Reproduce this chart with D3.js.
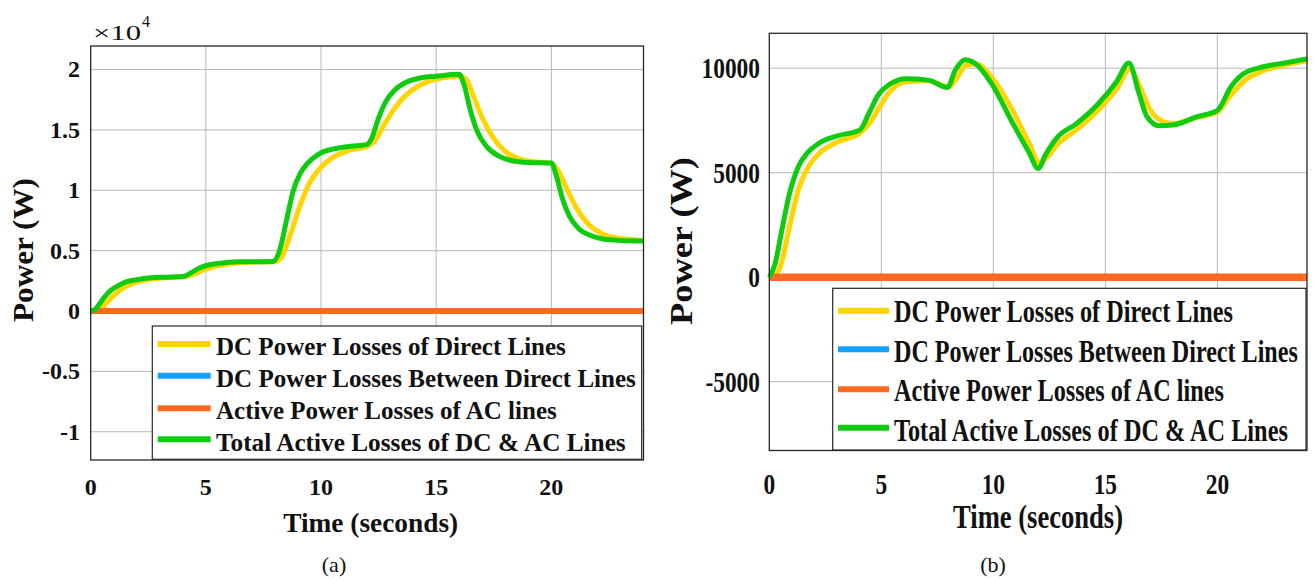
<!DOCTYPE html>
<html>
<head>
<meta charset="utf-8">
<script src="https://cdn.jsdelivr.net/npm/d3@7"></script>
<style>
body{margin:0;background:#fff;}
svg{display:block;}
</style>
</head>
<body>
<svg width="1315" height="581"></svg>
<script>
// series names (legend order)
var seriesNames = ["DC Power Losses of Direct Lines", "DC Power Losses Between Direct Lines",
  "Active Power Losses of AC lines", "Total Active Losses of DC & AC Lines"];
var seriesColors = ["#ffd400", "#14a0ff", "#ff6a20", "#10cc10"];

var xTicks = [0, 5, 10, 15, 20];

// panel (a) values in W
var aDirectT = [0,0.3,0.6,1.0,1.4,1.9,2.5,3.2,4.0,4.4,4.9,5.5,6.2,7.0,8.0,8.3,8.7,9.1,9.5,10.0,10.5,11.2,12.0,12.3,12.7,13.2,13.7,14.3,15.0,16.0,16.3,16.6,17.0,17.5,18.0,18.6,19.3,20.0,20.3,20.7,21.1,21.6,22.2,23.0,24.0];
var aDirectP = [0,0,500,1300,1900,2350,2600,2750,2830,3000,3400,3750,3950,4050,4080,4500,6500,8800,10600,11900,12700,13300,13650,14000,15300,16800,17900,18700,19200,19450,19200,17900,16000,14300,13200,12600,12350,12250,11600,10000,8500,7200,6400,6000,5850];
var aTotalT = [0,0.2,0.5,0.8,1.2,1.6,2.0,2.6,3.2,4.0,4.3,4.7,5.2,5.8,6.5,7.9,8.2,8.5,8.8,9.1,9.4,9.9,10.6,11.3,12.0,12.2,12.5,12.8,13.2,13.7,14.3,15.0,16.0,16.2,16.5,16.8,17.2,17.7,18.3,19.0,20.0,20.2,20.5,20.8,21.2,21.7,22.3,23.0,24.0];
var aTotalP = [0,150,900,1600,2100,2450,2600,2750,2800,2850,3100,3550,3850,4000,4070,4100,5000,7500,10000,11400,12200,13000,13450,13650,13800,14300,16000,17300,18300,18950,19300,19450,19600,18800,16500,14800,13600,12850,12450,12300,12250,11300,9200,7800,6800,6250,5950,5850,5800];
var aBetweenT = [0, 24], aBetweenP = [0, 0];
var aAcT = [0, 24], aAcP = [0, 0];
var aYTicks = [-10000, -5000, 0, 5000, 10000, 15000, 20000];
var aYLabels = ["-1", "-0.5", "0", "0.5", "1", "1.5", "2"];

// panel (b) values in W
var bDirectT = [0,0.3,0.55,0.9,1.3,1.7,2.2,3.0,4.05,4.5,4.9,5.4,6.1,7.1,8.0,8.35,8.8,9.25,9.9,10.85,11.6,12.05,12.4,12.9,13.65,14.6,15.5,16.1,16.55,16.9,17.4,18.0,19.1,20.0,20.6,21.2,22.1,23.0,24.0];
var bDirectP = [0,100,700,2400,4200,5200,5900,6450,6900,7400,8100,8900,9350,9400,9100,9500,10150,10200,9600,8000,6400,5500,5750,6400,7000,7900,9000,9950,9100,8200,7550,7350,7650,7900,8700,9400,9900,10150,10350];
var bTotalT = [0,0.25,0.55,0.9,1.3,1.7,2.2,3.0,4.05,4.45,4.85,5.4,6.1,7.1,7.95,8.3,8.75,9.15,9.9,10.85,11.6,12.0,12.35,12.9,13.65,14.6,15.5,16.05,16.5,16.85,17.4,18.0,19.1,20.0,20.6,21.15,22.1,23.0,24.0];
var bTotalP = [0,600,2200,4000,5300,5950,6400,6750,7050,7850,8700,9250,9500,9430,9080,9900,10400,10250,9300,7400,5950,5200,5900,6750,7300,8200,9350,10250,8800,7700,7250,7280,7680,7980,9100,9720,10080,10250,10450];
var bBetweenT = [0, 24], bBetweenP = [0, 0];
var bAcT = [0, 24], bAcP = [0, 0];
var bYTicks = [-5000, 0, 5000, 10000];
var bYLabels = ["-5000", "0", "5000", "10000"];

var svg = d3.select("svg");
var FONT = "'Liberation Serif','Times New Roman',serif";

function zip(t, p){ return t.map(function(d,i){ return {t:d, p:p[i]}; }); }

// text helper; o.len squeezes the text to that width with a horizontal scale
function txt(g, s, x, y, o){
  var el = g.append("text")
    .attr("font-family", FONT)
    .attr("font-size", o.size)
    .attr("font-weight", o.bold === false ? "normal" : "bold")
    .attr("text-anchor", o.anchor || "start")
    .attr("fill", "#111")
    .text(s);
  var sx = o.sx || 1;
  if (o.len) sx = o.len / el.node().getComputedTextLength();
  el.attr("transform", "translate(" + x + "," + y + ")" + (o.rot ? " rotate(" + o.rot + ")" : "") + (sx != 1 ? " scale(" + sx + ",1)" : ""));
  return el;
}

function drawPanel(c){
  var x = d3.scaleLinear().domain([0, 24]).range([c.left, c.right]);
  var y = d3.scaleLinear().domain(c.ydom).range([c.bottom, c.top]);
  var g = svg.append("g");

  // grid
  g.selectAll(".gx").data(xTicks.slice(1)).enter().append("line")
    .attr("x1", function(d){ return x(d); }).attr("x2", function(d){ return x(d); })
    .attr("y1", c.top).attr("y2", c.bottom)
    .attr("stroke", "#b8b8b8").attr("stroke-width", 1);
  g.selectAll(".gy").data(c.yTicks).enter().append("line")
    .attr("x1", c.left).attr("x2", c.right)
    .attr("y1", function(d){ return y(d); }).attr("y2", function(d){ return y(d); })
    .attr("stroke", "#b8b8b8").attr("stroke-width", 1);

  // lines
  var line = d3.line().x(function(d){ return x(d.t); }).y(function(d){ return y(d.p); })
    .curve(d3.curveMonotoneX);
  [0, 1, 2, 3].forEach(function(i){
    g.append("path").datum(c.series[i])
      .attr("d", line)
      .attr("fill", "none")
      .attr("stroke", seriesColors[i])
      .attr("stroke-width", c.widths[i])
      .attr("stroke-linejoin", "round")
      .attr("stroke-linecap", "butt");
  });

  // box
  g.append("rect").attr("x", c.left).attr("y", c.top)
    .attr("width", c.right - c.left).attr("height", c.bottom - c.top)
    .attr("fill", "none").attr("stroke", "#262626").attr("stroke-width", 1.3);

  // tick labels
  xTicks.forEach(function(d){
    txt(g, String(d), x(d), c.xTickY, {size: c.tickSize, anchor: "middle", sx: c.tickSx});
  });
  c.yTicks.forEach(function(d, i){
    txt(g, c.yLabels[i], c.yTickX, y(d) + c.tickSize * 0.33, {size: c.tickSize, anchor: "end", sx: c.tickSx});
  });

  // axis labels
  txt(g, "Time (seconds)", c.xLabel[0], c.xLabel[1], {size: c.xLabel[2], anchor: "middle", len: c.xLabel[3]});
  txt(g, "Power (W)", c.yLabel[0], c.yLabel[1], {size: c.yLabel[2], anchor: "middle", len: c.yLabel[3], rot: -90});
  txt(g, c.tag, c.tagPos[0], c.tagPos[1], {size: 22, anchor: "middle", bold: false});

  // legend
  var L = c.legend;
  g.append("rect").attr("x", L.x0).attr("y", L.y0)
    .attr("width", L.x1 - L.x0).attr("height", L.y1 - L.y0)
    .attr("fill", "#fff").attr("stroke", "#262626").attr("stroke-width", 1.2);
  seriesNames.forEach(function(n, i){
    g.append("line").attr("x1", L.s0).attr("x2", L.s1)
      .attr("y1", L.sy[i]).attr("y2", L.sy[i])
      .attr("stroke", seriesColors[i]).attr("stroke-width", 6);
    txt(g, n, L.tx, L.by[i], {size: L.size, len: L.lens[i]});
  });
  return g;
}

var ga = drawPanel({
  left: 90.7, right: 643.5, top: 46, bottom: 460,
  ydom: [-12340, 21950],
  yTicks: aYTicks, yLabels: aYLabels,
  series: [zip(aDirectT, aDirectP), zip(aBetweenT, aBetweenP), zip(aAcT, aAcP), zip(aTotalT, aTotalP)],
  widths: [5, 5, 6, 5],
  tickSize: 24, tickSx: null, xTickY: 495, yTickX: 80,
  xLabel: [370.7, 531.7, 27, 175],
  yLabel: [33, 250, 30, 144],
  tag: "(a)", tagPos: [334, 572],
  legend: {x0: 152.3, x1: 641.7, y0: 326, y1: 459.3, s0: 157.7, s1: 210.7, tx: 216,
    sy: [344, 375.7, 408.3, 439.3], by: [354.5, 386.5, 418.5, 450.5], size: 25,
    lens: [350, 420, 341, 410]}
});
// x10^4 multiplier
txt(ga, "\u00d710", 93, 40, {size: 22, bold: false, len: 48});
txt(ga, "4", 142, 27, {size: 16, bold: false});

drawPanel({
  left: 769.3, right: 1307, top: 33.3, bottom: 450.5,
  ydom: [-8292, 11670],
  yTicks: bYTicks, yLabels: bYLabels,
  series: [zip(bDirectT, bDirectP), zip(bBetweenT, bBetweenP), zip(bAcT, bAcP), zip(bTotalT, bTotalP)],
  widths: [5, 5, 7.5, 5],
  tickSize: 30, tickSx: 0.78, xTickY: 494, yTickX: 760,
  xLabel: [1038, 528, 34, 170],
  yLabel: [692, 241, 32, 168],
  tag: "(b)", tagPos: [993, 572],
  legend: {x0: 832.7, x1: 1306, y0: 288.3, y1: 450, s0: 838, s1: 889, tx: 894,
    sy: [310.7, 349.3, 389.3, 427.7], by: [322, 362, 400.5, 440.5], size: 31,
    lens: [339, 404, 330, 394]}
});
</script>
</body>
</html>
